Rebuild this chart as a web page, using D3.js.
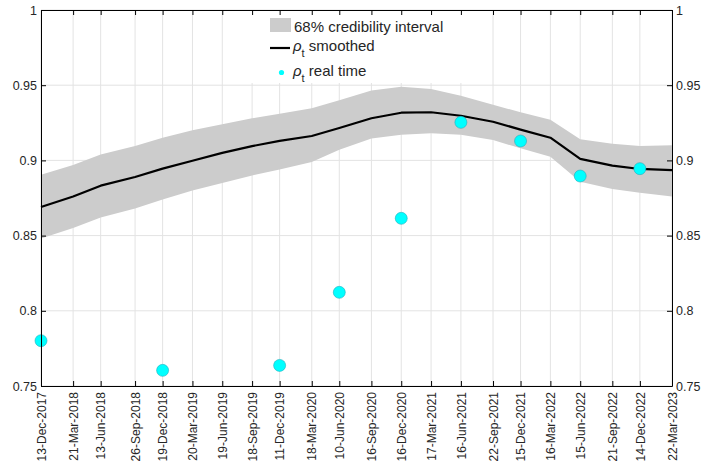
<!DOCTYPE html>
<html>
<head>
<meta charset="utf-8">
<script src="https://cdn.jsdelivr.net/npm/d3@7"></script>
<style>
  body { margin: 0; background: #fff; }
  svg { display: block; }
  text { font-family: "Liberation Sans", Arial, Helvetica, sans-serif; fill: #262626; }
</style>
</head>
<body>
<svg id="chart" width="701" height="466"></svg>
<script>
// Quarterly dates used for the x ticks and the smoothed estimate
const tickDates = [
  "13-Dec-2017", "21-Mar-2018", "13-Jun-2018", "26-Sep-2018", "19-Dec-2018",
  "20-Mar-2019", "19-Jun-2019", "18-Sep-2019", "11-Dec-2019", "18-Mar-2020",
  "10-Jun-2020", "16-Sep-2020", "16-Dec-2020", "17-Mar-2021", "16-Jun-2021",
  "22-Sep-2021", "15-Dec-2021", "16-Mar-2022", "15-Jun-2022", "21-Sep-2022",
  "14-Dec-2022", "22-Mar-2023"
];
// Smoothed rho_t and its 68% credibility bounds
const smoothed = [
  0.869, 0.876, 0.8832, 0.889, 0.8945, 0.8998, 0.905, 0.9095, 0.913, 0.9162,
  0.9215, 0.928, 0.9317, 0.932, 0.9297, 0.9257, 0.9205, 0.9151, 0.901, 0.8965,
  0.8943, 0.8936
];
const lower = [
  0.848, 0.855, 0.862, 0.868, 0.874, 0.880, 0.885, 0.890, 0.894, 0.899,
  0.907, 0.9145, 0.917, 0.918, 0.917, 0.9136, 0.908, 0.9025, 0.8858, 0.881,
  0.8785, 0.876
];
const upper = [
  0.8905, 0.897, 0.904, 0.9095, 0.915, 0.920, 0.924, 0.928, 0.931, 0.9346,
  0.940, 0.9464, 0.949, 0.9475, 0.943, 0.937, 0.932, 0.927, 0.914, 0.911,
  0.9096, 0.910
];
// Real-time rho_t estimates
const realTimeDates = [
  "13-Dec-2017", "19-Dec-2018", "11-Dec-2019", "10-Jun-2020", "16-Dec-2020",
  "16-Jun-2021", "15-Dec-2021", "15-Jun-2022", "14-Dec-2022"
];
const realTime = [0.7801, 0.7604, 0.7637, 0.8123, 0.8615, 0.9253, 0.9129, 0.8896, 0.8945];
const yTicks = [0.75, 0.8, 0.85, 0.9, 0.95, 1];

const parse = d3.timeParse("%d-%b-%Y");
const fmt = d3.timeFormat("%d-%b-%Y");
const dates = tickDates.map(parse);
const rtDates = realTimeDates.map(parse);

const svg = d3.select("#chart");
const L = 41, R = 672, T = 10, B = 386;

const x = d3.scaleTime().domain([dates[0], dates[dates.length - 1]]).range([L, R]);
const y = d3.scaleLinear().domain([0.75, 1]).range([B, T]);

// grid
const grid = svg.append("g").attr("stroke", "#e3e3e3").attr("stroke-width", 1);
grid.selectAll("line.v").data(dates).join("line")
  .attr("x1", d => x(d)).attr("x2", d => x(d)).attr("y1", T).attr("y2", B);
grid.selectAll("line.h").data(yTicks).join("line")
  .attr("x1", L).attr("x2", R).attr("y1", d => y(d)).attr("y2", d => y(d));

// credibility band
const band = dates.map((d, i) => ({ d, lo: lower[i], hi: upper[i], m: smoothed[i] }));
svg.append("path").datum(band)
  .attr("fill", "#cccccc")
  .attr("d", d3.area().x(p => x(p.d)).y0(p => y(p.lo)).y1(p => y(p.hi)));

// smoothed line
svg.append("path").datum(band)
  .attr("fill", "none").attr("stroke", "#000").attr("stroke-width", 2.2)
  .attr("stroke-linejoin", "round")
  .attr("d", d3.line().x(p => x(p.d)).y(p => y(p.m)));

// real-time points
svg.append("g").selectAll("circle").data(rtDates.map((d, i) => ({ d, v: realTime[i] })))
  .join("circle")
  .attr("cx", p => x(p.d)).attr("cy", p => y(p.v)).attr("r", 6)
  .attr("fill", "#00ffff").attr("stroke", "#22aebd").attr("stroke-width", 0.6);

// legend
const lg = svg.append("g");
lg.append("rect").attr("x", 246).attr("y", 11).attr("width", 222).attr("height", 72).attr("fill", "#fff");
lg.append("rect").attr("x", 270).attr("y", 18).attr("width", 21).attr("height", 14).attr("fill", "#cccccc");
lg.append("text").attr("x", 294).attr("y", 31.5).attr("font-size", 15).text("68% credibility interval");
lg.append("line").attr("x1", 270).attr("x2", 290).attr("y1", 48).attr("y2", 48)
  .attr("stroke", "#000").attr("stroke-width", 2.2);
const t1 = lg.append("text").attr("x", 293).attr("y", 51).attr("font-size", 15);
t1.append("tspan").attr("font-style", "italic").text("ρ");
t1.append("tspan").attr("font-size", 11).attr("dy", 6).text("t");
t1.append("tspan").attr("dy", -6).text(" smoothed");
lg.append("circle").attr("cx", 281.5).attr("cy", 72.5).attr("r", 2.6).attr("fill", "#00ffff");
const t2 = lg.append("text").attr("x", 293).attr("y", 76).attr("font-size", 15);
t2.append("tspan").attr("font-style", "italic").text("ρ");
t2.append("tspan").attr("font-size", 11).attr("dy", 6).text("t");
t2.append("tspan").attr("dy", -6).text(" real time");

// axes
function style(g) {
  g.select(".domain").attr("stroke", "#000").attr("stroke-width", 1);
  g.selectAll(".tick line").attr("stroke", "#000");
}
svg.append("g").attr("transform", `translate(${L},0)`)
  .call(d3.axisLeft(y).tickValues(yTicks).tickSizeInner(-5).tickSizeOuter(0).tickPadding(4).tickFormat(d => String(d)))
  .call(style)
  .call(g => g.selectAll("text").attr("font-size", 12.5).attr("fill", "#262626").attr("font-family", null));
svg.append("g").attr("transform", `translate(${R},0)`)
  .call(d3.axisRight(y).tickValues(yTicks).tickSizeInner(-5).tickSizeOuter(0).tickPadding(4).tickFormat(d => String(d)))
  .call(style)
  .call(g => g.selectAll("text").attr("font-size", 12.5).attr("fill", "#262626").attr("font-family", null));
svg.append("g").attr("transform", `translate(0,${T})`)
  .call(d3.axisTop(x).tickValues(dates).tickSizeInner(-5).tickSizeOuter(0).tickFormat(""))
  .call(style);
svg.append("g").attr("transform", `translate(0,${B})`)
  .call(d3.axisBottom(x).tickValues(dates).tickSizeInner(-5).tickSizeOuter(0).tickFormat(fmt))
  .call(style)
  .call(g => g.selectAll("text")
    .attr("font-size", 12).attr("fill", "#262626").attr("font-family", null)
    .attr("transform", "rotate(-90)")
    .attr("text-anchor", "end")
    .attr("x", -6).attr("y", 0).attr("dy", "0.35em"));
</script>
</body>
</html>
